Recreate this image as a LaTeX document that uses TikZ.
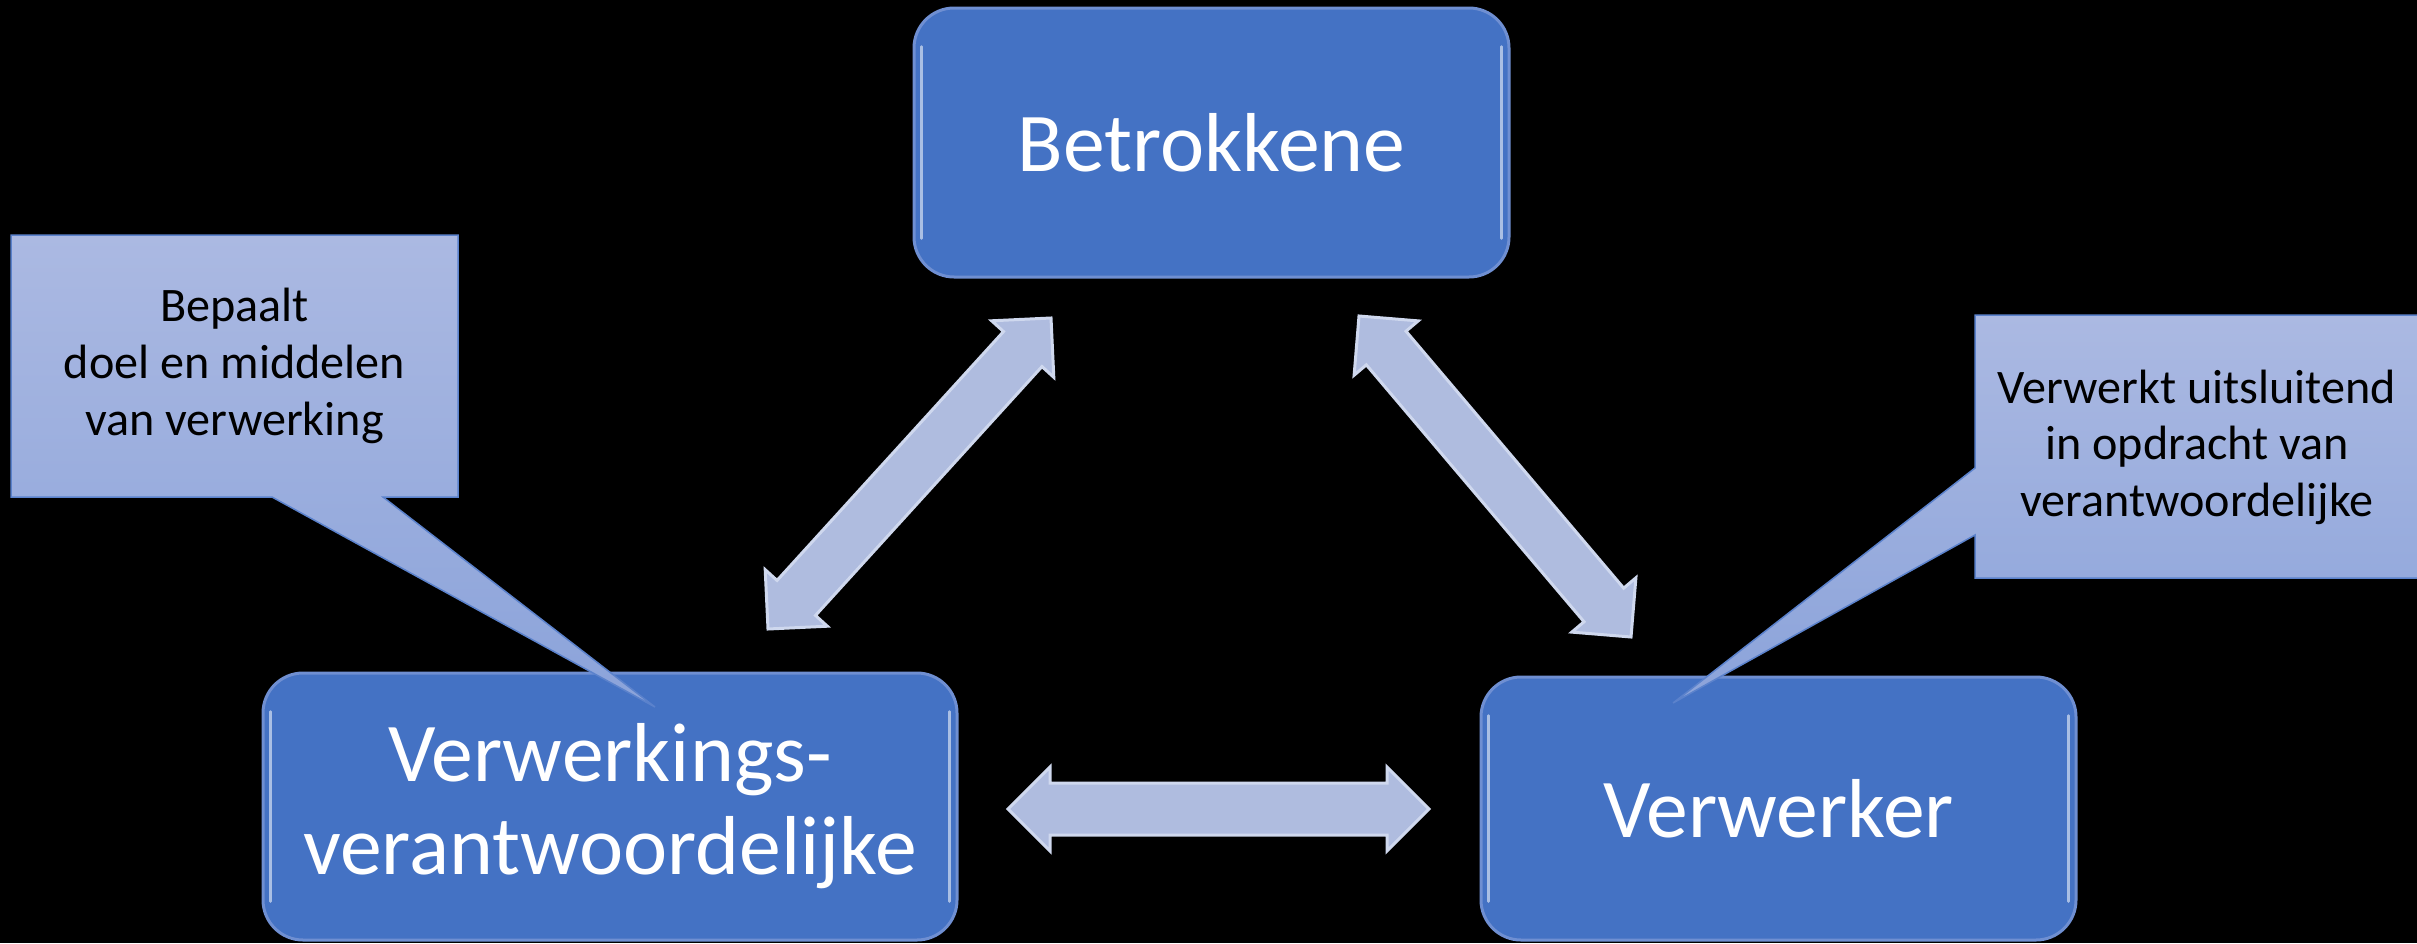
\documentclass[tikz,border=0pt]{standalone}
\usepackage{fontspec}
\setmainfont{Carlito}
\usetikzlibrary{calc}
\definecolor{boxblue}{HTML}{4472C4}
\definecolor{boxrim}{HTML}{6F8FD2}
\definecolor{arrfill}{HTML}{AFBCDF}
\definecolor{arrrim}{HTML}{CFD8EE}
\definecolor{calltop}{HTML}{ABB9E2}
\definecolor{callbot}{HTML}{8BA3DA}
\definecolor{callrim}{HTML}{5B82CC}
\tikzset{
  bigbox/.style={rounded corners=4mm, fill=boxblue, draw=boxrim, line width=0.3mm,
    text=white, align=center, inner sep=0pt, font=\fontsize{23.8}{26.5}\selectfont},
  gloss/.style={white, opacity=0.55, line width=0.25mm, line cap=round},
  arrowbody/.style={fill=arrfill, draw=arrrim, line width=0.3mm, line join=miter},
  callbody/.style={top color=calltop, bottom color=callbot, draw=callrim, line width=0.15mm},
  calltext/.style={align=center, text=black, inner sep=0pt, font=\fontsize{13.7}{16.1}\selectfont}
}
\newcommand\dblarr[2]{%
  \filldraw[arrowbody] (#1) -- ($(#1)!5.94mm!45:(#2)$) -- ($(#1)!4.94mm!31.76:(#2)$)
    -- ($(#2)!4.94mm!-31.76:(#1)$) -- ($(#2)!5.94mm!-45:(#1)$) -- (#2)
    -- ($(#2)!5.94mm!45:(#1)$) -- ($(#2)!4.94mm!31.76:(#1)$)
    -- ($(#1)!4.94mm!-31.76:(#2)$) -- ($(#1)!5.94mm!-45:(#2)$) -- cycle;}
\newcommand\glossy[1]{%
  \draw[gloss] ($(#1.north west)+(9,40)$) -- ($(#1.south west)+(9,-40)$);
  \draw[gloss] ($(#1.north east)+(-9,40)$) -- ($(#1.south east)+(-9,-40)$);}
\begin{document}
\begin{tikzpicture}[x=0.1mm, y=-0.1mm]
\fill[black] (0,0) rectangle (2417,943);
\useasboundingbox (0,0) rectangle (2417,943);

% main boxes
\node[bigbox, minimum width=59.5mm, minimum height=26.9mm] (bet) at (1211.5,142.5) {Betrokkene};
\node[bigbox, minimum width=69.4mm, minimum height=26.7mm] (vv) at (610,806.5) {Verwerkings-\\verantwoordelijke};
\node[bigbox, minimum width=59.5mm, minimum height=26.3mm] (vw) at (1778.5,808.5) {Verwerker};
\glossy{bet}
\glossy{vv}
\glossy{vw}

% arrow ends
\coordinate (a1t) at (1051,318);
\coordinate (a1b) at (768,629);
\coordinate (a2t) at (1359,316);
\coordinate (a2b) at (1631,637);
\coordinate (a3l) at (1008,809);
\coordinate (a3r) at (1429,809);
\dblarr{a1t}{a1b}
\dblarr{a2t}{a2b}
\dblarr{a3l}{a3r}

% callouts
\path[callbody] (11,235) -- (458,235) -- (458,497) -- (383,497) -- (655,707)
  -- (272,497) -- (11,497) -- cycle;
\node[calltext] (c1) at (234.5,366) {Bepaalt\\doel en middelen\\van verwerking};
\path[callbody] (1975,315) -- (2425,315) -- (2425,578) -- (1975,578) -- (1975,535)
  -- (1673,703) -- (1975,468) -- cycle;
\node[calltext] (c2) at (2197,447) {Verwerkt uitsluitend\\in opdracht van\\verantwoordelijke};
\end{tikzpicture}
\end{document}
